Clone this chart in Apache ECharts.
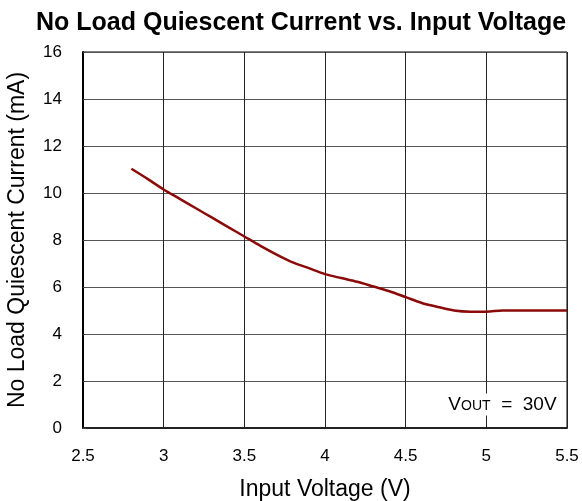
<!DOCTYPE html>
<html>
<head>
<meta charset="utf-8">
<script src="https://cdn.jsdelivr.net/npm/echarts@6/dist/echarts.min.js"></script>
<style>
html, body { margin: 0; padding: 0; background: #fff; }
#chart { width: 582px; height: 501px; }
</style>
</head>
<body>
<div id="chart"></div>
<script>
// input voltage (V)
var vin = [2.8, 2.9, 3.0, 3.1, 3.2, 3.3, 3.4, 3.5, 3.6, 3.7, 3.8, 3.9, 4.0, 4.1, 4.2,
    4.3, 4.4, 4.5, 4.6, 4.7, 4.8, 4.9, 5.0, 5.1, 5.2, 5.3, 5.4, 5.5];
// no load quiescent current (mA)
var iq = [11.03, 10.6, 10.15, 9.75, 9.35, 8.95, 8.55, 8.15, 7.75, 7.38, 7.05, 6.8, 6.55, 6.38, 6.22,
    6.02, 5.82, 5.57, 5.32, 5.15, 5.0, 4.95, 4.95, 5.0, 5.0, 5.0, 5.0, 5.0];
var xTicks = [2.5, 3, 3.5, 4, 4.5, 5, 5.5];
var yTicks = [0, 2, 4, 6, 8, 10, 12, 14, 16];

var seriesData = vin.map(function (v, i) { return [v, iq[i]]; });

var chart = echarts.init(document.getElementById('chart'));
var font = 'Liberation Sans, Arial, sans-serif';
var option = {
    backgroundColor: '#fff',
    animation: false,
    title: {
        text: 'No Load Quiescent Current vs. Input Voltage',
        left: 31,
        top: 6,
        textStyle: {
            color: '#000',
            fontFamily: font,
            fontWeight: 'bold',
            fontSize: 25
        }
    },
    grid: {
        left: 83,
        right: 15,
        top: 52,
        bottom: 73,
        outerBoundsMode: 'none',
        containLabel: false,
        show: true,
        borderColor: '#000',
        borderWidth: 1
    },
    xAxis: {
        type: 'value',
        min: xTicks[0],
        max: xTicks[xTicks.length - 1],
        interval: 0.5,
        name: 'Input Voltage (V)',
        nameLocation: 'middle',
        nameGap: 50,
        nameTextStyle: { color: '#000', fontFamily: font, fontSize: 23 },
        axisLine: { show: true, onZero: false, lineStyle: { color: '#222', width: 2 } },
        axisTick: { show: false },
        axisLabel: { color: '#000', fontFamily: font, fontSize: 17, margin: 20 },
        splitLine: { show: true, lineStyle: { color: '#222', width: 1 } }
    },
    yAxis: {
        type: 'value',
        min: yTicks[0],
        max: yTicks[yTicks.length - 1],
        interval: 2,
        name: 'No Load Quiescent Current (mA)',
        nameLocation: 'middle',
        nameGap: 54,
        nameTextStyle: { color: '#000', fontFamily: font, fontSize: 23 },
        axisLine: { show: true, onZero: false, lineStyle: { color: '#000', width: 2 } },
        axisTick: { show: true, length: 3, inside: true, lineStyle: { color: '#444' } },
        axisLabel: { color: '#000', fontFamily: font, fontSize: 17, margin: 21 },
        splitLine: { show: true, lineStyle: { color: '#555', width: 1 } }
    },
    series: [{
        name: 'Iq',
        type: 'line',
        data: seriesData,
        smooth: 0.3,
        showSymbol: false,
        symbol: 'none',
        lineStyle: { color: '#8b0a0a', width: 2.5 },
        markPoint: {
            symbol: 'rect',
            symbolSize: 0,
            silent: true,
            data: [{
                coord: [5.1, 1.0],
                label: {
                    show: true,
                    position: 'inside',
                    formatter: '{v|V}{s|OUT}{v|  =  30V}',
                    color: '#000',
                    fontFamily: font,
                    fontSize: 19,
                    backgroundColor: '#fff',
                    padding: [1, 3],
                    rich: {
                        v: { fontSize: 19, fontFamily: font, color: '#000', lineHeight: 20, verticalAlign: 'bottom' },
                        s: { fontSize: 14, fontFamily: font, color: '#000', lineHeight: 20, verticalAlign: 'bottom', padding: [0, 0, 1, 0] }
                    }
                }
            }]
        }
    }]
};
chart.setOption(option);
</script>
</body>
</html>
